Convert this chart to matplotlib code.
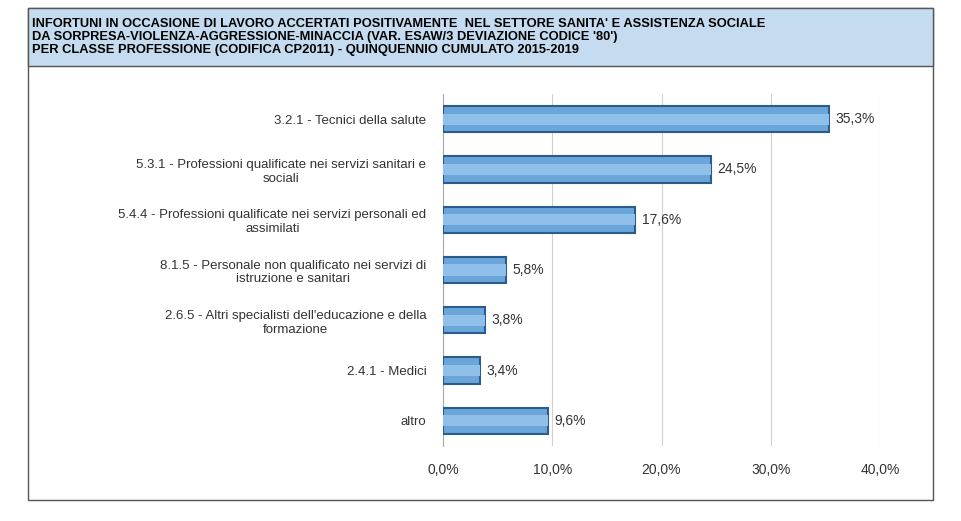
import matplotlib.pyplot as plt
from matplotlib.patches import Rectangle

plt.rcParams['font.family'] = ['Liberation Sans', 'DejaVu Sans']

categorie = [
    "3.2.1 - Tecnici della salute",
    "5.3.1 - Professioni qualificate nei servizi sanitari e\nsociali",
    "5.4.4 - Professioni qualificate nei servizi personali ed\nassimilati",
    "8.1.5 - Personale non qualificato nei servizi di\nistruzione e sanitari",
    "2.6.5 - Altri specialisti dell'educazione e della\nformazione",
    "2.4.1 - Medici",
    "altro",
]
valori = [35.3, 24.5, 17.6, 5.8, 3.8, 3.4, 9.6]
tick_x = [0, 10, 20, 30, 40]

titolo = ("INFORTUNI IN OCCASIONE DI LAVORO ACCERTATI POSITIVAMENTE  NEL SETTORE SANITA' E ASSISTENZA SOCIALE\n"
          "DA SORPRESA-VIOLENZA-AGGRESSIONE-MINACCIA (VAR. ESAW/3 DEVIAZIONE CODICE '80')\n"
          "PER CLASSE PROFESSIONE (CODIFICA CP2011) - QUINQUENNIO CUMULATO 2015-2019")

fig = plt.figure(figsize=(9.61, 5.21), dpi=100)

# cornice esterna e fascia del titolo
fig.patches.append(Rectangle((28/961, 1-500/521), 905/961, 492/521, transform=fig.transFigure,
                             fill=False, edgecolor='#555555', linewidth=1))
fig.patches.append(Rectangle((28/961, 1-66/521), 905/961, 58/521, transform=fig.transFigure,
                             facecolor='#C5DCF0', edgecolor='#555555', linewidth=1))
fig.text(32/961, 1-37/521, titolo, fontsize=9.3, fontweight='bold', va='center', ha='left',
         linespacing=1.15)

ax = fig.add_axes([443/961, 1-446/521, 437/961, 352/521])
y = list(range(len(valori)))
ax.barh(y, valori, height=0.52, color='#6AA6DA', edgecolor='#2B5C8A', linewidth=1.5, zorder=3)
# effetto bisellato semplice
ax.barh(y, valori, height=0.22, color='#8EC0EA', linewidth=0, zorder=4)
for yi, v in zip(y, valori):
    ax.text(v + 0.6, yi, f"{v:.1f}%".replace('.', ','), va='center', ha='left', fontsize=10, color='#333333')

ax.set_ylim(len(valori) - 0.5, -0.5)
ax.set_xlim(0, 40)
ax.set_yticks(y)
ax.set_yticklabels(categorie, fontsize=9.5, color='#333333', multialignment='center')
ax.set_xticks(tick_x)
ax.set_xticklabels([f"{t:.1f}%".replace('.', ',') for t in tick_x], fontsize=10, color='#333333')
ax.tick_params(axis='both', length=0, pad=12)
ax.grid(axis='x', color='#D0D0D0', linewidth=0.8, zorder=0)
for s in ['top', 'right', 'bottom']:
    ax.spines[s].set_visible(False)
ax.spines['left'].set_color('#AAAAAA')

fig.savefig('out.png', dpi=100)
